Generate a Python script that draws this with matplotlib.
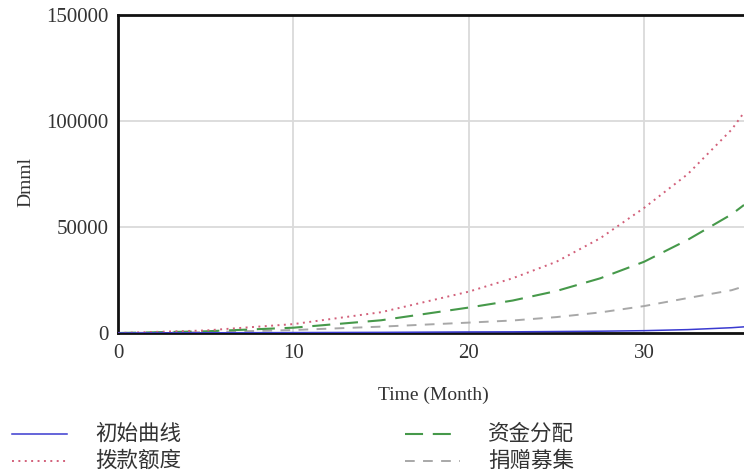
import matplotlib
matplotlib.use("Agg")
import matplotlib.pyplot as plt
from matplotlib.lines import Line2D

plt.rcParams["lines.scale_dashes"] = False

# values
months = [0, 5, 10, 15, 20, 22.5, 25, 27.5, 30, 32.5, 35, 35.7]
initial = [0, 100, 200, 300, 500, 550, 700, 850, 1100, 1600, 2500, 2900]
allocation = [0, 800, 2500, 6000, 12000, 15300, 19800, 25800, 33600, 44000, 56000, 60400]
appropriation = [0, 1200, 4200, 9800, 19500, 25800, 33600, 44700, 59000, 75000, 96000, 104000]
donation = [0, 400, 1400, 3000, 4900, 5900, 7500, 9700, 12700, 16500, 20200, 22000]

labels = ["初始曲线", "拨款额度", "资金分配", "捐赠募集"]
x_ticks = [0, 10, 20, 30]
y_ticks = [0, 50000, 100000, 150000]

serif = ["Liberation Serif", "DejaVu Serif"]
cjk = ["Noto Sans CJK SC", "DejaVu Sans"]

styles = [
    dict(color="#3a3ad0", lw=1.1, ls="-"),
    dict(color="#d2607a", lw=1.4, dashes=(1.4, 3.2)),
    dict(color="#46994a", lw=1.5, dashes=(13, 7)),
    dict(color="#a8a8a8", lw=1.4, dashes=(7, 6)),
]
series = [initial, appropriation, allocation, donation]

W, H = 744, 474
fig = plt.figure(figsize=(W / 100, H / 100), dpi=100)
ax = fig.add_axes([118 / W, 1 - 333 / H, 1 - 118 / W, (333 - 15) / H])

# draw the faint ones first so blue stays on top near the axis
for idx in [3, 2, 1, 0]:
    ax.plot(months, series[idx], **styles[idx], zorder=3)

ax.set_xlim(0, 35.7)
ax.set_ylim(0, 150000)
ax.set_xticks(x_ticks)
ax.set_yticks(y_ticks)
ax.grid(True, color="#dadada", lw=1.3)
ax.tick_params(length=0, labelsize=15, labelcolor="#333333")
ax.tick_params(axis="x", pad=8)
ax.tick_params(axis="y", pad=7)
for lab in ax.get_xticklabels() + ax.get_yticklabels():
    lab.set_family(serif)

for side in ["left", "top", "bottom"]:
    ax.spines[side].set_linewidth(2)
    ax.spines[side].set_color("#111111")
ax.spines["right"].set_visible(False)

fig.text(26 / W, 1 - 182 / H, "Dmml", rotation=90, ha="center", va="center",
         fontsize=14, family=serif, color="#333333")
fig.text(433 / W, 1 - 395 / H, "Time (Month)", ha="center", va="center",
         fontsize=14, family=serif, color="#333333")

# legend laid out by hand, two columns
rows = [434, 461]
cols = [(12, 67, 95), (405, 460, 488)]
order = [(0, 0), (0, 1), (1, 0), (1, 1)]
for idx, (c, r) in enumerate(order):
    x0, x1, xt = cols[c]
    y = 1 - rows[r] / H
    fig.add_artist(Line2D([x0 / W, x1 / W], [y, y], transform=fig.transFigure,
                          **styles[idx]))
    fig.text(xt / W, y, labels[idx], ha="left", va="center", fontsize=15.5,
             family=cjk, color="#333333")

fig.savefig("out.png", dpi=100)
